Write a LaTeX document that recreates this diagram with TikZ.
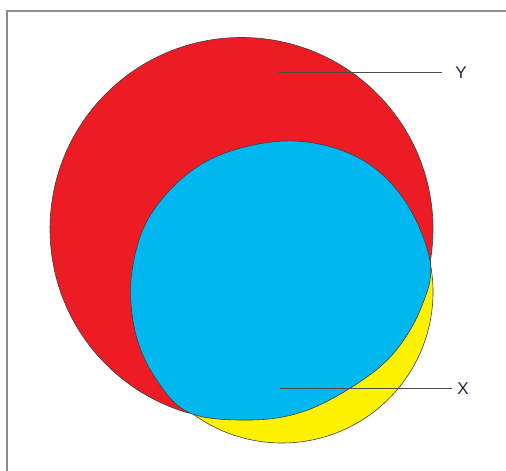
\documentclass[tikz,border=0pt]{standalone}
\usepackage{fontspec}
\setmainfont{Liberation Sans}
\definecolor{vred}{RGB}{237,28,36}
\definecolor{vblue}{RGB}{0,183,239}
\definecolor{vyellow}{RGB}{255,242,0}
\definecolor{frame}{RGB}{140,140,140}
\definecolor{labtext}{RGB}{30,40,60}
\tikzset{
  region/.style={draw=black!75, line width=0.6pt},
  leader/.style={draw=black!70, line width=0.8pt},
  lab/.style={text=labtext, font=\fontsize{17}{17}\selectfont, inner sep=0pt},
}
\begin{document}
\begin{tikzpicture}[x=1pt,y=1pt]
\useasboundingbox (0,0) rectangle (506,471);
% frame (top and left edges visible)
\draw[frame, line width=1.5pt] (7,0) -- (7,460) -- (506,460);
% yellow circle
\fill[vyellow, region] (282,179) circle [radius=151pt];
% red circle, clipped above the chord through the two junction points
\begin{scope}
  \clip (-50,-92) -- (670,358) -- (670,700) -- (-50,700) -- cycle;
  \fill[vred, region] (241.5,242) circle [radius=191.5pt];
\end{scope}
% blue region
\fill[vblue, region] plot[smooth cycle, tension=0.6] coordinates {
  (285,330) (355,315) (403,273) (430,210) (421,163) (393,117) (352,84)
  (302,59) (250,51) (190,58) (156,92) (135,140) (132,200) (153,260) (207,310)};
% labels
\coordinate (ys) at (278,399);
\coordinate (ye) at (442,399);
\node[lab] (ylab) at (461,398) {Y};
\draw[leader] (ys) -- (ye);
\coordinate (xs) at (280,83);
\coordinate (xe) at (452,83);
\node[lab] (xlab) at (463,82) {X};
\draw[leader] (xs) -- (xe);
\end{tikzpicture}
\end{document}
